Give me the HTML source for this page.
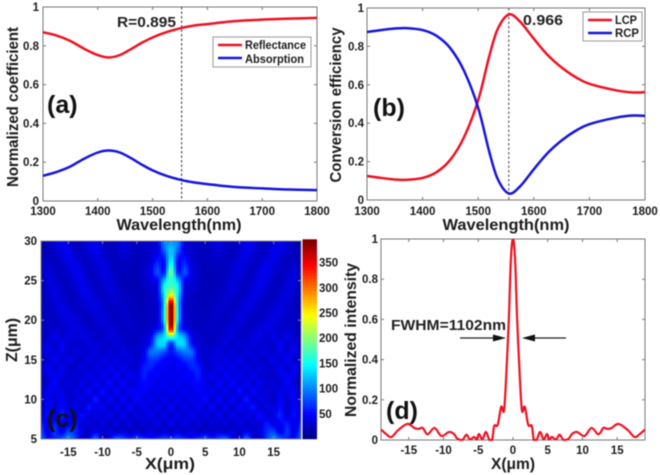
<!DOCTYPE html>
<html lang="en">
<head>
<meta charset="utf-8">
<title>Metalens performance charts</title>
<style>
html,body{margin:0;padding:0;background:#fff;width:660px;height:475px;overflow:hidden}
svg{display:block;filter:blur(0.6px)}
text{font-family:"Liberation Sans",sans-serif;font-weight:bold;fill:#1c1c1c}
.tick{font-size:11.5px}
.title{font-size:16px}
.panel{font-size:25px;fill:#111}
.note{font-size:15px;fill:#222}
.leg{font-size:12px}
</style>
</head>
<body>
<svg id="fig" xmlns="http://www.w3.org/2000/svg" width="660" height="475" viewBox="0 0 660 475">
  <defs>
    <clipPath id="clip-c"><rect x="41" y="241" width="260" height="198"/></clipPath>
    <clipPath id="clip-d"><rect x="381" y="239" width="264" height="202"/></clipPath>
  </defs>

  <g id="panel-a"></g>
  <g id="panel-b"></g>
  <g id="panel-c"></g>
  <g id="panel-d"></g>

  <g id="labels">
    <text class="title" x="179" y="230" text-anchor="middle" textLength="125" lengthAdjust="spacingAndGlyphs">Wavelength(nm)</text>
    <text class="title" transform="translate(18,107) rotate(-90)" text-anchor="middle" textLength="160" lengthAdjust="spacingAndGlyphs">Normalized coefficient</text>
    <text x="117" y="27" font-size="14.5" textLength="59" lengthAdjust="spacingAndGlyphs" class="note">R=0.895</text>
    <text class="panel" x="47" y="113">(a)</text>

    <g>
      <rect x="213" y="37" width="98" height="30" fill="#fff" stroke="#999" stroke-width="1"/>
      <line x1="218" x2="242" y1="45" y2="45" stroke="#ee1122" stroke-width="2.5"/>
      <text class="leg" x="245" y="49" textLength="61" lengthAdjust="spacingAndGlyphs">Reflectance</text>
      <line x1="218" x2="242" y1="58" y2="58" stroke="#1414dd" stroke-width="2.5"/>
      <text class="leg" x="245" y="63" textLength="59" lengthAdjust="spacingAndGlyphs">Absorption</text>
    </g>

    <text class="title" x="506" y="230" text-anchor="middle" textLength="127" lengthAdjust="spacingAndGlyphs">Wavelength(nm)</text>
    <text class="title" transform="translate(341,105) rotate(-90)" text-anchor="middle" textLength="155" lengthAdjust="spacingAndGlyphs">Conversion efficiency</text>
    <text x="523" y="25" font-size="15" textLength="40" lengthAdjust="spacingAndGlyphs" class="note">0.966</text>
    <text class="panel" x="373" y="116">(b)</text>

    <g>
      <rect x="583" y="12" width="59" height="29" fill="#fff" stroke="#999" stroke-width="1"/>
      <line x1="588" x2="612" y1="20" y2="20" stroke="#ee1122" stroke-width="2.5"/>
      <text class="leg" x="615" y="24" textLength="22" lengthAdjust="spacingAndGlyphs">LCP</text>
      <line x1="588" x2="612" y1="33" y2="33" stroke="#1414dd" stroke-width="2.5"/>
      <text class="leg" x="615" y="37" textLength="24" lengthAdjust="spacingAndGlyphs">RCP</text>
    </g>

    <text class="title" x="170" y="469" text-anchor="middle" textLength="50" lengthAdjust="spacingAndGlyphs">X(μm)</text>
    <text class="title" transform="translate(17,340) rotate(-90)" text-anchor="middle" textLength="44" lengthAdjust="spacingAndGlyphs">Z(μm)</text>

    <text class="title" x="513" y="469" text-anchor="middle" textLength="44" lengthAdjust="spacingAndGlyphs">X(μm)</text>
    <text class="title" transform="translate(356,340) rotate(-90)" text-anchor="middle" textLength="154" lengthAdjust="spacingAndGlyphs">Normalized intensity</text>
    <text class="panel" x="386" y="419">(d)</text>
    <text x="391" y="330" font-size="15" textLength="115" lengthAdjust="spacingAndGlyphs" class="note">FWHM=1102nm</text>
    <g>
      <line x1="460" x2="497" y1="338" y2="338" stroke="#222" stroke-width="1.2"/>
      <polygon points="506,338 493,334.5 493,341.5" fill="#111"/>
    </g>
    <g>
      <line x1="566" x2="531" y1="338" y2="338" stroke="#222" stroke-width="1.2"/>
      <polygon points="522,338 535,334.5 535,341.5" fill="#111"/>
    </g>
  </g>
</svg>

<script>
/* Panel (a) */
const aWavelength = [1300,1325,1350,1375,1400,1420,1440,1460,1480,1500,1525,1553,1575,1600,1650,1700,1750,1800];
const aReflectance = [0.87,0.853,0.825,0.785,0.752,0.74,0.752,0.782,0.815,0.843,0.87,0.892,0.904,0.912,0.927,0.935,0.94,0.944];
const aAbsorption = [0.13,0.15,0.178,0.218,0.25,0.26,0.25,0.222,0.188,0.158,0.13,0.108,0.096,0.087,0.072,0.065,0.059,0.056];

/* Panel (b) */
const bWavelength = [1300,1325,1350,1370,1400,1425,1450,1475,1500,1520,1535,1555,1575,1600,1625,1650,1675,1700,1750,1780,1800];
const bLcp = [0.125,0.115,0.107,0.105,0.115,0.145,0.21,0.33,0.52,0.75,0.89,0.966,0.93,0.84,0.755,0.69,0.64,0.605,0.57,0.56,0.562];
const bRcp = [0.875,0.885,0.893,0.895,0.885,0.855,0.79,0.67,0.48,0.25,0.11,0.034,0.07,0.16,0.245,0.31,0.36,0.395,0.43,0.44,0.438];

/* Panel (d) */
const dX = [-19,-18.2,-17.5,-16.5,-15.2,-14.2,-13.6,-13,-12.3,-11.3,-10.3,-9.2,-8.5,-8,-7.3,-6.7,-6.2,-5.6,-5.2,-4.9,-4.4,-3.9,-3.4,-3,-2.7,-2.2,-1.7,-1.3,-1,-0.6,-0.3,0,0.3,0.6,1,1.3,1.7,2.2,2.7,3,3.4,3.9,4.4,4.9,5.2,5.6,6.2,6.7,7.3,8,8.5,9.2,10.3,11.3,12.3,13,13.6,14.2,15.2,16.5,17.5,18.2,19];
const dIntensity = [0.052,0.028,0.015,0.05,0.08,0.06,0.055,0.06,0.028,0.06,0.02,0.04,0.03,0.006,0,0.026,0.003,0.015,0.003,0.03,0.003,0.04,0,0,0.07,0.075,0.165,0.145,0.3,0.6,0.9,1,0.9,0.6,0.3,0.145,0.165,0.075,0.07,0,0,0.04,0.003,0.03,0.003,0.015,0.003,0.026,0,0.006,0.03,0.04,0.02,0.06,0.028,0.06,0.055,0.06,0.08,0.05,0.015,0.028,0.052];

/* Panel (c): intensity per z row, x = 0..19 um, mirrored about x = 0 */
const cZ = [30,29,28,27,26,25,24,23,22,21,20,19,18,17,16,15,14,13,12,11,10,9,8,7,6,5];
const cField = [
 [105,100,40,28,26,24,30,38,28,24,30,44,40,28,22,36,46,32,22,14],
 [125,90,36,30,26,24,28,36,26,24,30,44,36,26,26,42,40,30,22,16],
 [135,62,50,30,26,24,26,30,24,26,34,40,30,26,32,44,34,26,24,20],
 [160,50,68,36,26,22,24,26,24,30,38,32,26,30,42,36,28,24,32,20],
 [195,58,80,40,28,22,22,24,24,32,38,28,26,38,44,30,26,28,36,18],
 [170,120,48,36,26,22,22,22,26,36,30,26,30,42,36,26,24,32,38,16],
 [185,150,38,32,24,22,22,24,30,36,28,26,36,44,30,26,28,36,32,16],
 [270,135,38,28,22,22,24,26,32,30,26,30,40,34,26,24,32,38,28,16],
 [395,130,34,26,24,22,26,28,30,26,30,38,36,28,26,28,38,32,26,16],
 [398,140,32,26,24,24,26,30,26,28,34,36,28,26,28,36,38,28,26,18],
 [398,135,34,28,24,26,28,28,26,30,36,30,26,28,34,38,32,26,28,18],
 [370,105,44,30,26,26,28,26,30,34,30,26,28,34,38,34,28,28,30,18],
 [200,135,105,42,30,26,26,28,34,36,28,28,34,40,30,40,28,42,28,18],
 [60,135,125,55,32,26,26,30,36,28,34,30,38,30,32,30,46,28,40,18],
 [55,80,95,90,38,30,30,40,28,38,28,38,30,34,36,28,42,32,42,20],
 [45,50,65,70,46,28,38,30,42,32,42,28,38,28,30,42,28,48,28,24],
 [40,50,45,62,58,30,32,44,34,44,32,40,28,40,28,28,46,28,48,20],
 [48,40,50,45,60,35,46,30,48,34,44,30,44,28,34,28,40,44,36,20],
 [35,48,38,48,50,42,30,50,30,52,30,48,28,46,26,38,28,50,32,18],
 [48,35,45,38,50,42,46,32,48,30,56,30,50,30,38,28,42,36,46,18],
 [30,45,32,45,35,52,28,50,28,50,28,60,28,42,34,28,48,30,48,18],
 [50,28,45,30,48,28,50,28,46,26,48,32,58,26,42,32,52,28,50,18],
 [28,42,28,48,28,42,26,46,26,44,30,42,30,54,30,42,62,32,54,22],
 [48,25,45,25,40,24,40,26,40,24,42,28,38,32,58,36,46,58,36,58],
 [24,38,22,40,22,32,24,36,24,36,26,42,26,38,64,74,36,70,36,78],
 [70,75,62,52,66,78,62,76,88,44,32,90,40,28,74,100,82,62,52,88]
];
const cColorTicks = [50,100,150,200,250,300,350];

/* Tick labels */
const wavelengthTicks = [1300,1400,1500,1600,1700,1800];
const unitTicks = [0,0.2,0.4,0.6,0.8,1];
const micronTicks = [-15,-10,-5,0,5,10,15];
const zTicks = [5,10,15,20,25,30];

const NS = 'http://www.w3.org/2000/svg';
function make(parent, tag, attrs, txt) {
  const e = document.createElementNS(NS, tag);
  for (const k in attrs) e.setAttribute(k, attrs[k]);
  if (txt !== undefined) e.textContent = txt;
  parent.appendChild(e);
  return e;
}
function scale(d0, d1, r0, r1) {
  return v => r0 + (v - d0) / (d1 - d0) * (r1 - r0);
}
function smoothPath(xs, ys, tension, maxY) {
  let d = 'M' + xs[0].toFixed(2) + ' ' + ys[0].toFixed(2);
  for (let i = 0; i < xs.length - 1; i++) {
    const a = Math.max(i - 1, 0), b = Math.min(i + 2, xs.length - 1);
    const c1x = xs[i] + (xs[i + 1] - xs[a]) * tension;
    const c1y = Math.min(maxY, ys[i] + (ys[i + 1] - ys[a]) * tension);
    const c2x = xs[i + 1] - (xs[b] - xs[i]) * tension;
    const c2y = Math.min(maxY, ys[i + 1] - (ys[b] - ys[i]) * tension);
    d += 'C' + c1x.toFixed(2) + ' ' + c1y.toFixed(2) + ' ' + c2x.toFixed(2) + ' ' + c2y.toFixed(2) + ' ' + xs[i + 1].toFixed(2) + ' ' + ys[i + 1].toFixed(2);
  }
  return d;
}
function drawAxes(g, prefix, box, xVals, yVals, sx, sy, xBase, yRight, boxColor) {
  const frame = make(g, 'rect', {x: box.l, y: box.t, width: box.r - box.l, height: box.b - box.t, fill: 'none', stroke: boxColor, 'stroke-width': 1});
  
  
  xVals.forEach(v => {
    const x = sx(v);
    const t1 = make(g, 'path', {d: 'M' + x + ' ' + box.b + 'v-3M' + x + ' ' + box.t + 'v3', stroke: boxColor, 'stroke-width': 1, fill: 'none'});
    
    
    const lab = make(g, 'text', {class: 'tick', x: x, y: xBase, 'text-anchor': 'middle'}, String(v));
    
    
  });
  yVals.forEach(v => {
    const y = sy(v);
    const t2 = make(g, 'path', {d: 'M' + box.l + ' ' + y + 'h3M' + box.r + ' ' + y + 'h-3', stroke: boxColor, 'stroke-width': 1, fill: 'none'});
    
    
    const lab = make(g, 'text', {class: 'tick', x: yRight, y: y + 4, 'text-anchor': 'end'}, String(v));
    
    
  });
}
function jet(v) {
  const t = Math.max(0, Math.min(1, v / 393));
  const ch = c => Math.round(255 * Math.max(0, Math.min(1, 1.5 - Math.abs(4 * t - c))));
  return 'rgb(' + ch(3) + ',' + ch(2) + ',' + ch(1) + ')';
}
function cubic(p0, p1, p2, p3, t) {
  const v = p1 + 0.5 * t * (p2 - p0 + t * (2 * p0 - 5 * p1 + 4 * p2 - p3 + t * (3 * (p1 - p2) + p3 - p0)));
  return Math.max(Math.min(p1, p2), Math.min(Math.max(p1, p2), v));
}
function fieldAt(row, col) {
  const r = Math.max(0, Math.min(cField.length - 1, row));
  const c = Math.min(cField[r].length - 1, Math.abs(col));
  return cField[r][c];
}
function sampleField(xUm, zUm) {
  const rowPos = (cZ[0] - zUm) / (cZ[0] - cZ[1]);
  const colPos = Math.abs(xUm);
  const r = Math.floor(rowPos), c = Math.floor(colPos);
  const tr = rowPos - r, tc = colPos - c;
  const rowValue = rr => cubic(fieldAt(rr, c - 1), fieldAt(rr, c), fieldAt(rr, c + 1), fieldAt(rr, c + 2), tc);
  return cubic(rowValue(r - 1), rowValue(r), rowValue(r + 1), rowValue(r + 2), tr);
}

/* Panel (a) drawing */
(function () {
  const g = document.getElementById('panel-a');
  const box = {l: 43, r: 317, t: 7, b: 201};
  const sx = scale(1300, 1800, box.l, box.r), sy = scale(0, 1, box.b, box.t);
  drawAxes(g, 'a', box, wavelengthTicks, unitTicks, sx, sy, 215, 39, '#777');
  const marker = make(g, 'line', {x1: sx(1553), x2: sx(1553), y1: box.t, y2: box.b, stroke: '#333', 'stroke-width': 1, 'stroke-dasharray': '2.5 2'});
  
  
  const r = make(g, 'path', {d: smoothPath(aWavelength.map(sx), aReflectance.map(sy), 1 / 6, box.b), fill: 'none', stroke: '#ee1122', 'stroke-width': 2.5});
  
  
  const ab = make(g, 'path', {d: smoothPath(aWavelength.map(sx), aAbsorption.map(sy), 1 / 6, box.b), fill: 'none', stroke: '#1414dd', 'stroke-width': 2.5});
  
  
})();

/* Panel (b) drawing */
(function () {
  const g = document.getElementById('panel-b');
  const box = {l: 367, r: 645, t: 8, b: 200};
  const sx = scale(1300, 1800, box.l, box.r), sy = scale(0, 1, box.b, box.t);
  drawAxes(g, 'b', box, wavelengthTicks, unitTicks, sx, sy, 215, 364, '#777');
  const marker = make(g, 'line', {x1: sx(1555), x2: sx(1555), y1: box.t, y2: box.b, stroke: '#444', 'stroke-width': 1, 'stroke-dasharray': '2.5 2'});
  
  
  const l = make(g, 'path', {d: smoothPath(bWavelength.map(sx), bLcp.map(sy), 1 / 6, box.b), fill: 'none', stroke: '#ee1122', 'stroke-width': 2.5});
  
  
  const rc = make(g, 'path', {d: smoothPath(bWavelength.map(sx), bRcp.map(sy), 1 / 6, box.b), fill: 'none', stroke: '#1414dd', 'stroke-width': 2.5});
  
  
})();

/* Panel (c) drawing */
(function () {
  const g = document.getElementById('panel-c');
  const box = {l: 41, r: 301, t: 241, b: 439};
  const sx = scale(-19, 19, box.l, box.r), sy = scale(5, 30, box.b, box.t);
  const clip = make(g, 'g', {'clip-path': 'url(#clip-c)'});
  
  
  const nx = 104, nz = 80;
  const xStep = 38 / nx, zStep = 25 / nz;
  for (let iz = 0; iz < nz; iz++) {
    for (let ix = 0; ix < nx; ix++) {
      const xv = -19 + (ix + 0.5) * xStep, zv = 30 - (iz + 0.5) * zStep;
      const px = sx(-19 + ix * xStep), py = sy(30 - iz * zStep);
      const cell = make(clip, 'rect', {x: px.toFixed(2), y: py.toFixed(2), width: 2.9, height: 2.9, fill: jet(sampleField(xv, zv))});
      
      
    }
  }
  drawAxes(g, 'c', box, micronTicks, zTicks, sx, sy, 456, 37, '#8a8a8a');

  const cb = make(g, 'g', {});
  
  
  const cy = scale(0, 393, 439, 241);
  for (let v = 0; v < 393; v += 6) {
    const s = make(cb, 'rect', {x: 302.5, y: cy(v + 6) - 0.2, width: 14.5, height: cy(v) - cy(v + 6) + 0.4, fill: jet(v + 3)});
    
    
  }
  cColorTicks.forEach(v => {
    const lab = make(g, 'text', {class: 'tick', x: 319, y: cy(v) + 4}, String(v));
    
    
  });
  const panelLabel = make(g, 'text', {class: 'panel', x: 47, y: 427}, '(c)');
  
  
})();

/* Panel (d) drawing */
(function () {
  const g = document.getElementById('panel-d');
  const box = {l: 381, r: 645, t: 239, b: 440};
  const sx = scale(-19, 19, box.l, box.r), sy = scale(0, 1, box.b, box.t);
  drawAxes(g, 'd', box, micronTicks, unitTicks, sx, sy, 454, 378, '#777');
  const c = make(g, 'g', {'clip-path': 'url(#clip-d)'});
  const p = make(c, 'path', {d: smoothPath(dX.map(sx), dIntensity.map(sy), 1 / 6, box.b), fill: 'none', stroke: '#ee1122', 'stroke-width': 2.2});
  
  
})();
</script>
</body>
</html>
